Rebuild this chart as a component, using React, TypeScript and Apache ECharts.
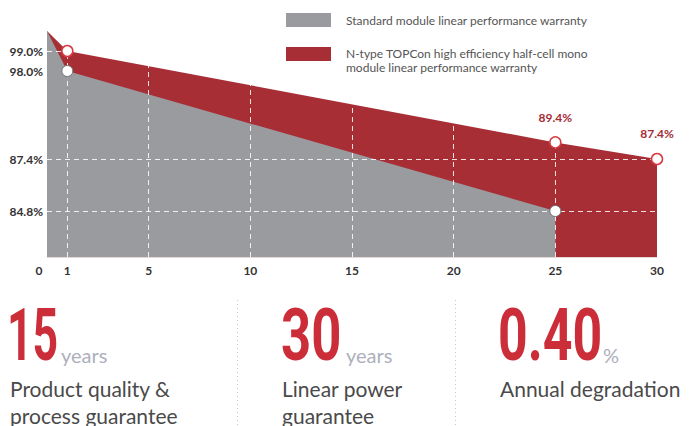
import React, { useEffect, useRef } from "react";
import * as echarts from "echarts";

// ---- data ----
const xTickLabels = [0, 1, 5, 10, 15, 20, 25, 30];
const xGridValues = [1, 5, 10, 15, 20, 25];
const yTickLabels = [84.8, 87.4, 98.0, 99.0];
const yGridValues = [99.0, 87.4, 84.8];

const standardYears = [0, 1, 25];
const standardValues = [100, 98.0, 84.8];
const ntypeYears = [0, 1, 25, 30];
const ntypeValues = [100, 99.0, 89.4, 87.4];
const ntypeLabelYears = [25, 30];

const seriesNames = [
  "Standard module linear performance warranty",
  "N-type TOPCon high efficiency half-cell mono\nmodule linear performance warranty",
];

const statValues = ["15", "30", "0.40"];
const statUnits = ["years", "years", "%"];
const statCaptions = [
  "Product quality &\nprocess guarantee",
  "Linear power\nguarantee",
  "Annual degradation",
];

const RED = "#a82e36";
const GRAY = "#9a9b9f";
const BIG_RED = "#cc2e39";

export default function App() {
  const ref = useRef<HTMLDivElement>(null);
  useEffect(() => {
    if (!ref.current) return;
    const chart = echarts.init(ref.current, undefined, { renderer: "svg" });

    const standardData = standardYears.map((y, i) => [y, standardValues[i]]);
    const ntypeData = ntypeYears.map((y, i) => [y, ntypeValues[i]]);

    const statX = [7, 281, 498];
    const statScale = [0.62, 0.73, 0.72];
    const unitX = [61, 346, 603];
    const captionX = [10, 282, 500];

    const textStyle = (text: string, fill: string, font: string, extra: any = {}) => ({
      text,
      fill,
      font,
      align: "left",
      verticalAlign: "middle",
      textAlign: "left",
      textVerticalAlign: "middle",
      ...extra,
    });

    const graphics: any[] = [
      { type: "rect", z: 100, shape: { x: 286, y: 13, width: 45, height: 14 }, style: { fill: GRAY } },
      { type: "text", z: 100, x: 346, y: 20, style: textStyle(seriesNames[0], "#555", "12px Lato") },
      { type: "rect", z: 100, shape: { x: 286, y: 47, width: 45, height: 14 }, style: { fill: RED } },
      {
        type: "text",
        z: 100,
        x: 346,
        y: 60,
        style: textStyle(seriesNames[1], "#555", "12px Lato", { lineHeight: 14 }),
      },
      { type: "line", z: 100, shape: { x1: 237.5, y1: 300, x2: 237.5, y2: 426 }, style: { stroke: "#c8c8c8", lineWidth: 1, lineDash: [1, 3] } },
      { type: "line", z: 100, shape: { x1: 455.5, y1: 300, x2: 455.5, y2: 426 }, style: { stroke: "#c8c8c8", lineWidth: 1, lineDash: [1, 3] } },
    ];
    statValues.forEach((v, i) => {
      graphics.push({
        type: "text",
        z: 100,
        x: statX[i],
        y: 335,
        scaleX: statScale[i],
        style: textStyle(v, BIG_RED, "bold 72px Roboto"),
      });
      graphics.push({
        type: "text",
        z: 100,
        x: unitX[i],
        y: 355,
        style: textStyle(statUnits[i], "#adb0bc", "20px Lato"),
      });
      graphics.push({
        type: "text",
        z: 100,
        x: captionX[i],
        y: 375,
        style: textStyle(statCaptions[i], "#4a4a4a", "21px Lato", {
          lineHeight: 27,
          verticalAlign: "top",
          textVerticalAlign: "top",
        }),
      });
    });

    const option: any = {
      animation: false,
      grid: { left: 47, right: 34, top: 31, bottom: 169 },
      xAxis: {
        type: "value",
        min: 0,
        max: 30,
        axisLine: { show: true, lineStyle: { color: "#e6d8d8", width: 1 } },
        axisTick: { show: false },
        splitLine: { show: false },
        axisLabel: {
          customValues: xTickLabels,
          color: "#333",
          fontFamily: "Lato",
          fontWeight: "bold",
          fontSize: 12,
          margin: 7,
          formatter: (v: number) => (v === 0 ? "{o|0}" : String(v)),
          rich: {
            o: { padding: [0, 16, 0, 0], color: "#333", fontFamily: "Lato", fontWeight: "bold", fontSize: 12 },
          },
        },
      },
      yAxis: {
        type: "value",
        min: 82.5,
        max: 100,
        breaks: [{ start: 87.4, end: 98.0, gap: 4.4 }],
        breakArea: { show: false, itemStyle: { opacity: 0, borderWidth: 0 } },
        axisLine: { show: false },
        axisTick: { show: false },
        splitLine: { show: false },
        axisLabel: {
          customValues: yTickLabels,
          color: "#333",
          fontFamily: "Lato",
          fontWeight: "bold",
          fontSize: 12,
          margin: 4,
          formatter: (v: number) => v.toFixed(1) + "%",
        },
      },
      series: [
        {
          name: seriesNames[1],
          type: "line",
          z: 1,
          data: ntypeData,
          symbol: "none",
          lineStyle: { width: 0 },
          areaStyle: { color: RED, opacity: 1 },
        },
        {
          name: seriesNames[0],
          type: "line",
          z: 2,
          data: standardData,
          symbol: "none",
          lineStyle: { width: 0 },
          areaStyle: { color: GRAY, opacity: 1 },
        },
        {
          type: "line",
          z: 3,
          data: ntypeData,
          symbol: "none",
          lineStyle: { opacity: 0 },
          markLine: {
            silent: true,
            symbol: "none",
            label: { show: false },
            lineStyle: { color: "rgba(255,255,255,0.85)", type: [5, 4], width: 1 },
            data: [
              ...yGridValues.map((v) => ({ yAxis: v })),
              ...xGridValues.map((v) => ({ xAxis: v })),
            ],
          },
        },
        {
          type: "scatter",
          z: 6,
          data: standardData.filter((d) => d[0] > 0),
          symbolSize: 11,
          itemStyle: { color: "#fff", opacity: 1, borderColor: "#6d6e72", borderWidth: 1 },
        },
        {
          type: "scatter",
          z: 6,
          data: ntypeData.filter((d) => d[0] > 0),
          symbolSize: 11,
          itemStyle: { color: "#fff", opacity: 1, borderColor: "#d93a42", borderWidth: 1.5 },
          label: {
            show: true,
            position: "top",
            distance: 13,
            color: "#a52d35",
            fontFamily: "Lato",
            fontWeight: "bold",
            fontSize: 12,
            formatter: (p: any) =>
              ntypeLabelYears.includes(p.value[0]) ? p.value[1].toFixed(1) + "%" : "",
          },
        },
      ],
      graphic: graphics,
    };
    chart.setOption(option);
    return () => chart.dispose();
  }, []);
  return (
    <div
      ref={ref}
      style={{ position: "fixed", left: 0, top: 0, width: 691, height: 426, background: "#fff" }}
    />
  );
}
